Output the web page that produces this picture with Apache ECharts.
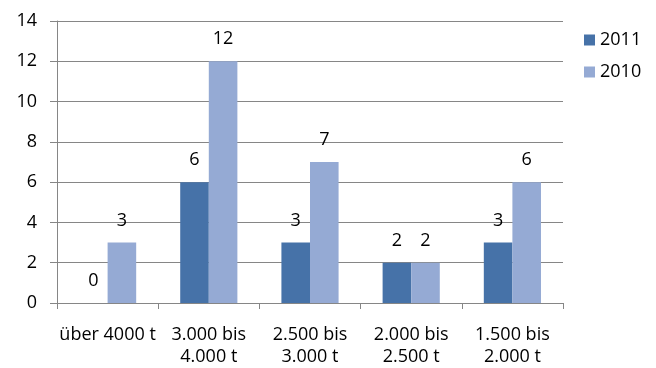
<!DOCTYPE html>
<html>
<head>
<meta charset="utf-8">
<script src="https://cdn.jsdelivr.net/npm/echarts@6/dist/echarts.min.js"></script>
<style>html,body{margin:0;padding:0;background:#fff}#c{width:656px;height:368px}</style>
</head>
<body>
<div id="c"></div>
<script>
var categories = ["über 4000 t", "3.000 bis\n4.000 t", "2.500 bis\n3.000 t", "2.000 bis\n2.500 t", "1.500 bis\n2.000 t"];
var values2011 = [0, 6, 3, 2, 3];
var values2010 = [3, 12, 7, 2, 6];
var seriesNames = ["2011", "2010"];

var FONT = "'Open Sans', 'Noto Sans', sans-serif";
var chart = echarts.init(document.getElementById('c'), null, {renderer: 'canvas'});
var lbl = {show: true, position: 'top', distance: 13, color: '#000', fontFamily: FONT, fontSize: 18, lineHeight: 18};
chart.setOption({
  animation: false,
  backgroundColor: '#fff',
  textStyle: {fontFamily: FONT},
  grid: {left: 57, right: 93, top: 21, bottom: 63.5, containLabel: false},
  legend: {
    orient: 'vertical', left: 579, top: 26, itemWidth: 11, itemHeight: 11, itemGap: 14,
    icon: 'rect',
    textStyle: {color: '#000', fontSize: 18, fontFamily: FONT, lineHeight: 18, padding: [0,0,0,0]},
    data: seriesNames
  },
  xAxis: {
    type: 'category', data: categories, boundaryGap: true,
    axisLine: {lineStyle: {color: '#868686', width: 1}},
    axisTick: {show: true, alignWithLabel: false, length: 6, lineStyle: {color: '#868686'}},
    axisLabel: {interval: 0, color: '#000', fontSize: 18, fontFamily: FONT, lineHeight: 22, margin: 21}
  },
  yAxis: {
    type: 'value', min: 0, max: 14, interval: 2,
    axisLine: {show: true, lineStyle: {color: '#868686', width: 1}},
    axisTick: {show: true, length: 7, lineStyle: {color: '#868686'}},
    splitLine: {show: true, lineStyle: {color: '#868686', width: 1}},
    axisLabel: {color: '#000', fontSize: 18, fontFamily: FONT, margin: 20}
  },
  series: [
    {name: seriesNames[0], type: 'bar', data: values2011, barGap: '0%', barCategoryGap: '43.5%',
     itemStyle: {color: '#4672A8'}, label: lbl},
    {name: seriesNames[1], type: 'bar', data: values2010, barGap: '0%', barCategoryGap: '43.5%',
     itemStyle: {color: '#95AAD4'}, label: lbl}
  ]
});
</script>
</body>
</html>
